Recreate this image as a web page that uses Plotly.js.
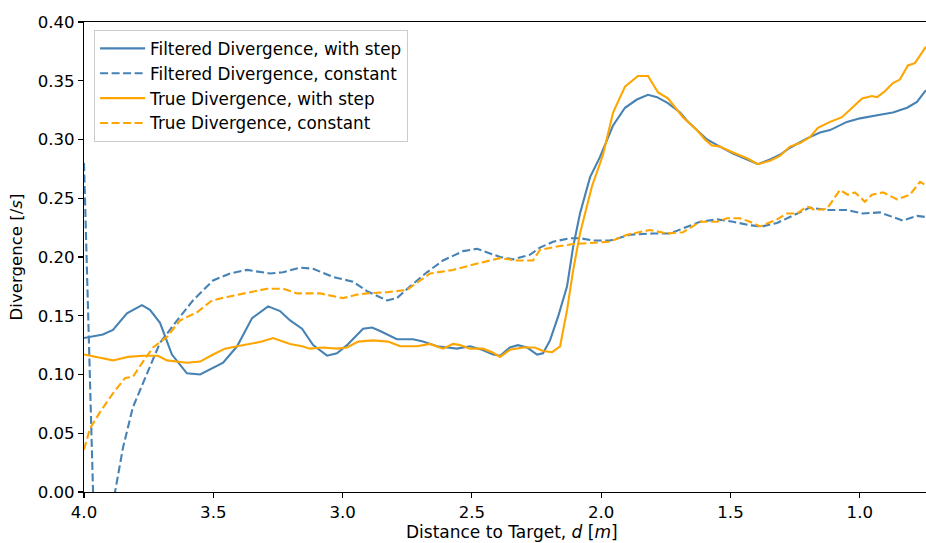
<!DOCTYPE html>
<html>
<head>
<meta charset="utf-8">
<script src="https://cdn.plot.ly/plotly-3.0.1.min.js"></script>
<style>html,body{margin:0;padding:0;background:#fff}#chart{width:926px;height:543px}</style>
</head>
<body>
<div id="chart"></div>
<script>
// Filtered Divergence, with step
const fsX = [4.000,3.927,3.888,3.834,3.776,3.745,3.706,3.660,3.602,3.551,3.462,3.408,3.350,3.288,3.242,3.203,3.157,3.114,3.060,3.022,2.983,2.921,2.886,2.855,2.790,2.728,2.689,2.635,2.558,2.507,2.461,2.418,2.391,2.353,2.322,2.287,2.248,2.225,2.198,2.167,2.132,2.109,2.082,2.043,2.005,1.954,1.908,1.862,1.819,1.784,1.742,1.695,1.668,1.630,1.591,1.541,1.490,1.436,1.394,1.347,1.309,1.270,1.204,1.154,1.115,1.050,0.999,0.922,0.872,0.817,0.779,0.744];
const fsY = [0.131,0.134,0.138,0.152,0.159,0.155,0.144,0.117,0.101,0.100,0.110,0.124,0.148,0.158,0.154,0.146,0.139,0.125,0.116,0.118,0.125,0.139,0.140,0.137,0.130,0.130,0.128,0.124,0.122,0.124,0.121,0.117,0.116,0.123,0.125,0.123,0.117,0.118,0.129,0.149,0.175,0.208,0.237,0.268,0.285,0.312,0.327,0.334,0.338,0.336,0.331,0.323,0.316,0.308,0.300,0.294,0.288,0.283,0.279,0.283,0.287,0.293,0.301,0.306,0.308,0.315,0.318,0.321,0.323,0.327,0.332,0.342];

// Filtered Divergence, constant
const fcX = [4.000,3.980,3.960,3.940,3.920,3.900,3.880,3.849,3.811,3.756,3.706,3.640,3.579,3.501,3.435,3.370,3.319,3.281,3.230,3.165,3.114,3.037,2.960,2.906,2.828,2.790,2.739,2.674,2.612,2.534,2.480,2.442,2.391,2.341,2.275,2.237,2.186,2.121,2.082,2.032,1.966,1.889,1.800,1.734,1.668,1.618,1.552,1.490,1.425,1.378,1.320,1.270,1.193,1.127,1.050,0.988,0.922,0.872,0.833,0.779,0.744];
const fcY = [0.280,0.120,-0.040,-0.150,-0.120,-0.060,0.000,0.038,0.072,0.101,0.127,0.146,0.163,0.180,0.186,0.189,0.187,0.186,0.187,0.191,0.190,0.183,0.179,0.171,0.163,0.165,0.175,0.187,0.197,0.205,0.207,0.204,0.200,0.198,0.202,0.208,0.213,0.216,0.216,0.214,0.214,0.219,0.220,0.220,0.226,0.230,0.232,0.230,0.227,0.226,0.229,0.234,0.242,0.240,0.240,0.237,0.238,0.234,0.231,0.235,0.234];

// True Divergence, with step
const tsX = [4.000,3.950,3.888,3.830,3.772,3.714,3.679,3.602,3.551,3.501,3.455,3.408,3.358,3.312,3.269,3.242,3.203,3.157,3.126,3.076,3.022,2.983,2.940,2.882,2.824,2.778,2.712,2.662,2.612,2.573,2.546,2.507,2.457,2.422,2.391,2.353,2.302,2.256,2.225,2.190,2.159,2.132,2.109,2.082,2.036,1.993,1.954,1.908,1.858,1.819,1.780,1.742,1.684,1.630,1.599,1.572,1.541,1.490,1.436,1.394,1.347,1.309,1.270,1.231,1.193,1.162,1.115,1.069,1.026,0.991,0.953,0.933,0.903,0.872,0.845,0.814,0.787,0.744];
const tsY = [0.117,0.115,0.112,0.115,0.116,0.116,0.112,0.110,0.111,0.117,0.122,0.124,0.126,0.128,0.131,0.129,0.126,0.124,0.122,0.123,0.122,0.123,0.128,0.129,0.128,0.124,0.124,0.126,0.122,0.126,0.125,0.122,0.122,0.119,0.115,0.121,0.123,0.123,0.120,0.119,0.124,0.155,0.188,0.220,0.260,0.287,0.323,0.345,0.354,0.354,0.340,0.335,0.319,0.308,0.300,0.295,0.294,0.289,0.284,0.279,0.282,0.286,0.294,0.297,0.302,0.310,0.315,0.319,0.328,0.335,0.337,0.336,0.341,0.348,0.351,0.363,0.365,0.379];

// True Divergence, constant
const tcX = [4.000,3.977,3.938,3.888,3.841,3.811,3.772,3.733,3.679,3.629,3.563,3.505,3.447,3.385,3.292,3.230,3.176,3.087,2.998,2.944,2.906,2.828,2.751,2.662,2.573,2.469,2.391,2.326,2.264,2.237,2.171,2.109,2.032,1.966,1.900,1.811,1.746,1.684,1.618,1.552,1.514,1.463,1.425,1.386,1.320,1.282,1.243,1.204,1.173,1.127,1.077,1.046,1.019,0.980,0.953,0.910,0.856,0.806,0.767,0.744];
const tcY = [0.036,0.054,0.068,0.084,0.097,0.098,0.111,0.123,0.132,0.146,0.153,0.163,0.166,0.169,0.173,0.173,0.169,0.169,0.165,0.168,0.169,0.170,0.172,0.186,0.189,0.195,0.199,0.197,0.197,0.206,0.209,0.211,0.212,0.213,0.219,0.223,0.220,0.221,0.230,0.230,0.233,0.233,0.230,0.226,0.232,0.237,0.237,0.243,0.240,0.241,0.257,0.253,0.255,0.247,0.253,0.255,0.249,0.253,0.264,0.261];

const names = ["Filtered Divergence, with step","Filtered Divergence, constant","True Divergence, with step","True Divergence, constant"];
const xTitle = "Distance to Target, <i>d</i> [<i>m</i>]";
const yTitle = "Divergence [/<i>s</i>]";
const BLUE = "#4682B4", ORANGE = "#FFA500";
const DASH = "8px,3.5px";

const traces = [
  {x: fsX, y: fsY, name: names[0], mode: "lines", line: {color: BLUE, width: 2.1}},
  {x: fcX, y: fcY, name: names[1], mode: "lines", line: {color: BLUE, width: 2.1, dash: DASH}},
  {x: tsX, y: tsY, name: names[2], mode: "lines", line: {color: ORANGE, width: 2.1}},
  {x: tcX, y: tcY, name: names[3], mode: "lines", line: {color: ORANGE, width: 2.1, dash: DASH}}
];

const FONT = "DejaVu Sans, sans-serif";
const FS = 16.6;
const layout = {
  width: 926, height: 543,
  margin: {l: 84, r: 0, t: 22, b: 51},
  paper_bgcolor: "#fff", plot_bgcolor: "#fff",
  font: {family: FONT, size: FS, color: "#000"},
  showlegend: true,
  legend: {
    x: 0.012, y: 0.983, xanchor: "left", yanchor: "top",
    bgcolor: "rgba(255,255,255,0.8)", bordercolor: "#cccccc", borderwidth: 1,
    font: {family: FONT, size: 16.8, color: "#000"},
    tracegroupgap: 0, itemwidth: 45
  },
  xaxis: {
    range: [4.0, 0.744], tickmode: "linear", tick0: 0, dtick: 0.5, tickformat: ".1f",
    showgrid: false, zeroline: false, showline: true, linecolor: "#000", linewidth: 1.1,
    mirror: true, ticks: "outside", ticklen: 5, tickwidth: 1.1, tickcolor: "#000",
    tickfont: {family: FONT, size: FS, color: "#000"}
  },
  yaxis: {
    range: [0, 0.4], tickmode: "linear", tick0: 0, dtick: 0.05, tickformat: ".2f",
    showgrid: false, zeroline: false, showline: true, linecolor: "#000", linewidth: 1.1,
    ticks: "outside", ticklen: 5, tickwidth: 1.1, tickcolor: "#000",
    tickfont: {family: FONT, size: FS, color: "#000"},
    title: {text: yTitle, font: {family: FONT, size: FS, color: "#000"}, standoff: 10}
  },
  annotations: [{
    text: xTitle, xref: "paper", yref: "paper", x: 0.508, y: 0,
    xanchor: "center", yanchor: "middle", yshift: -40, showarrow: false,
    font: {family: FONT, size: 17, color: "#000"}
  }]
};

Plotly.newPlot("chart", traces, layout, {displayModeBar: false, staticPlot: true});
</script>
</body>
</html>
